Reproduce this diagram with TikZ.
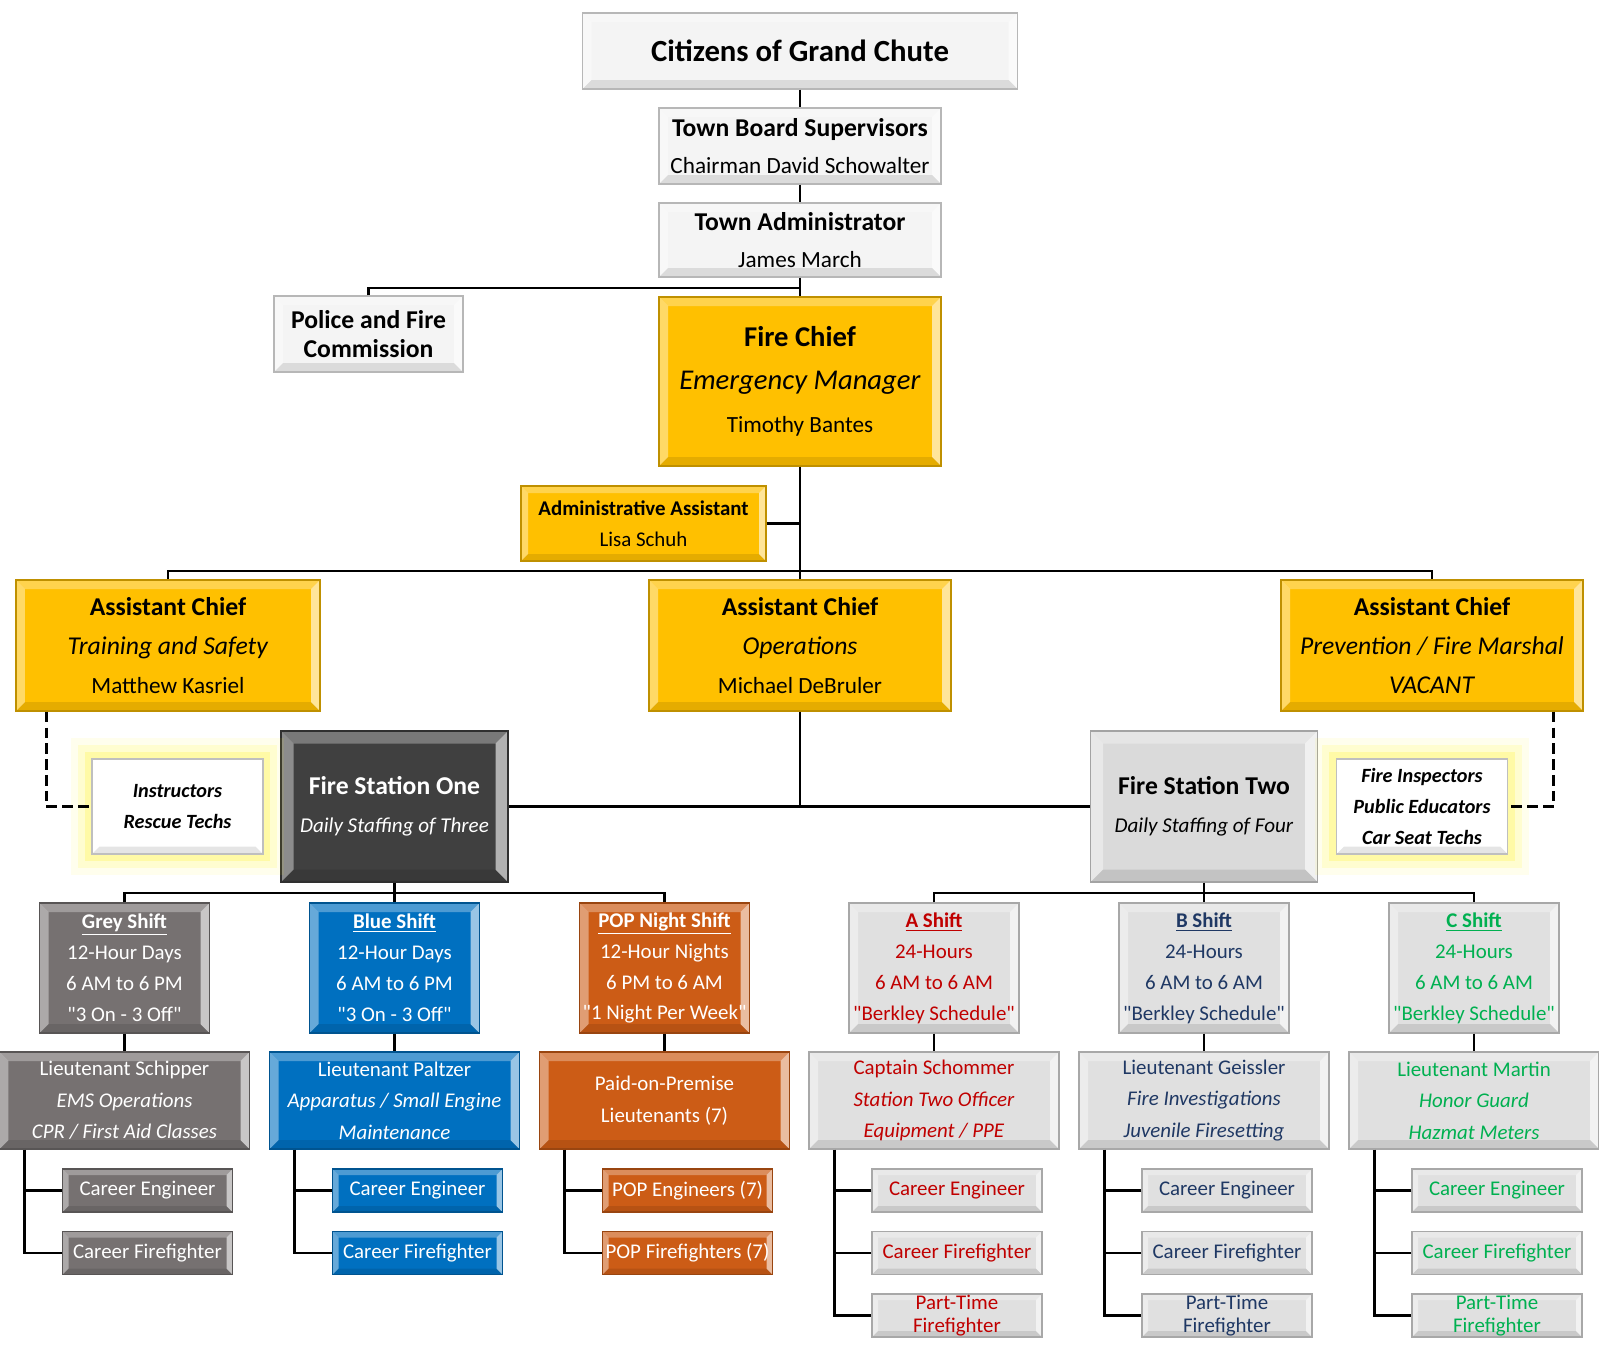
\documentclass[tikz,border=0pt]{standalone}
\usepackage{fontspec}
\setmainfont{Carlito}[Ligatures=TeXOff]
\usetikzlibrary{positioning}

\definecolor{paper}{HTML}{F4F4F4}
\definecolor{chiefgold}{HTML}{FFC000}
\definecolor{stationdark}{HTML}{404040}
\definecolor{stationpale}{HTML}{DADADA}
\definecolor{greyshift}{HTML}{767171}
\definecolor{blueshift}{HTML}{0070C0}
\definecolor{popshift}{HTML}{CC5C16}
\definecolor{paleshift}{HTML}{E0E0E0}
\definecolor{shiftred}{HTML}{C00000}
\definecolor{shiftnavy}{HTML}{1F3864}
\definecolor{shiftgreen}{HTML}{00B050}

\newcommand{\fsz}[2]{{\fontsize{#1}{#1}\selectfont #2}}

\begin{document}
\begin{tikzpicture}[
  link/.style={line width=1.6pt},
  dotlink/.style={link, dash pattern=on 6pt off 3pt},
  bevel/.style={path picture={
      \coordinate (bsw) at (path picture bounding box.south west);
      \coordinate (bne) at (path picture bounding box.north east);
      \coordinate (bnw) at (bsw |- bne);
      \coordinate (bse) at (bne |- bsw);
      \path (bne) ++(-#1,-#1) coordinate (ine);
      \path (bsw) ++(#1,#1) coordinate (isw);
      \coordinate (inw) at (isw |- ine);
      \coordinate (ise) at (ine |- isw);
      \fill[white, opacity=0.3] (bnw) -- (bne) -- (ine) -- (inw) -- cycle;
      \fill[white, opacity=0.4] (bnw) -- (bsw) -- (isw) -- (inw) -- cycle;
      \fill[white, opacity=0.6] (bne) -- (bse) -- (ise) -- (ine) -- cycle;
      \fill[black, opacity=0.1] (bsw) -- (bse) -- (ise) -- (isw) -- cycle;
  }},
  box/.style={rectangle, draw=#1!75!black, fill=#1, line width=0.8pt,
    align=center, inner sep=0pt},
  glow/.style={
    preaction={draw=yellow, line width=24pt, opacity=0.07, rounded corners=9pt},
    preaction={draw=yellow, line width=16pt, opacity=0.12, rounded corners=6pt},
    preaction={draw=yellow, line width=8pt, opacity=0.2}},
  govbox/.style={box=paper, bevel=0.18, minimum width=5.64cm, minimum height=1.52cm,
    font=\fontsize{13.2}{21.4}\selectfont},
  goldbox/.style={box=chiefgold, bevel=0.18, font=\fontsize{14.6}{22}\selectfont},
  station/.style={box=#1, bevel=0.25, minimum width=4.54cm, minimum height=3.02cm,
    font=\fontsize{12}{21.4}\selectfont},
  helper/.style={box=white, glow, bevel=0.15, minimum width=3.42cm, minimum height=1.9cm,
    font=\fontsize{11.5}{17.8}\selectfont\bfseries\itshape},
  shift/.style={box=#1, bevel=0.18, minimum width=3.4cm, minimum height=2.6cm,
    font=\fontsize{11.9}{17.6}\selectfont},
  lt/.style={box=#1, bevel=0.18, minimum width=5cm, minimum height=1.94cm,
    font=\fontsize{11.9}{17.9}\selectfont},
  crew/.style={box=#1, bevel=0.12, minimum width=3.4cm, minimum height=0.86cm,
    font=\fontsize{11.9}{12.7}\selectfont}
]

\useasboundingbox (0,0) rectangle (31.98,-27.04);

% Town government
\node[govbox, minimum width=8.7cm, font=\fontsize{17.5}{21}\selectfont\bfseries] (citizens) at (16,-1.02) {Citizens of Grand Chute};
\node[govbox] (board) at (16,-2.92) {\fsz{14.6}{\textbf{Town Board Supervisors}}\\Chairman David Schowalter};
\node[govbox, minimum height=1.48cm] (admin) at (16,-4.8) {\fsz{14.6}{\textbf{Town Administrator}}\\James March};
\node[govbox, minimum width=3.78cm, font=\fontsize{14.6}{16.2}\selectfont\bfseries] (police) at (7.37,-6.68) {Police and Fire\\Commission};

% Chief and staff
\node[goldbox, minimum width=5.64cm, minimum height=3.38cm, font=\fontsize{16.3}{24.6}\selectfont] (chief) at (16,-7.63)
  {\textbf{Fire Chief}\\\textit{Emergency Manager}\\\fsz{13.2}{Timothy Bantes}};
\node[goldbox, bevel=0.14, minimum width=4.9cm, minimum height=1.5cm, font=\fontsize{11.9}{17.9}\selectfont] (aide) at (12.87,-10.47)
  {\textbf{Administrative Assistant}\\Lisa Schuh};

\node[goldbox, minimum width=6.08cm, minimum height=2.62cm] (acTrain) at (3.36,-12.91)
  {\textbf{Assistant Chief}\\\textit{Training and Safety}\\\fsz{13.2}{Matthew Kasriel}};
\node[goldbox, minimum width=6.04cm, minimum height=2.62cm] (acOps) at (16,-12.91)
  {\textbf{Assistant Chief}\\\textit{Operations}\\\fsz{13.2}{Michael DeBruler}};
\node[goldbox, minimum width=6.04cm, minimum height=2.62cm] (acPrev) at (28.64,-12.91)
  {\textbf{Assistant Chief}\\\textit{Prevention / Fire Marshal}\\\textit{VACANT}};

% Stations
\node[station=stationdark, text=white] (stnOne) at (7.89,-16.13)
  {\fsz{14.6}{\textbf{Fire Station One}}\\\textit{Daily Staffing of Three}};
\node[station=stationpale] (stnTwo) at (24.08,-16.13)
  {\fsz{14.6}{\textbf{Fire Station Two}}\\\textit{Daily Staffing of Four}};
\node[helper] (instr) at (3.55,-16.13) {Instructors\\Rescue Techs};
\node[helper] (inspect) at (28.44,-16.13) {Fire Inspectors\\Public Educators\\Car Seat Techs};

% Shifts
\node[shift=greyshift, text=white] (greyShift) at (2.49,-19.36)
  {\underline{\textbf{Grey Shift}}\\12-Hour Days\\6 AM to 6 PM\\"3 On - 3 Off"};
\node[shift=blueshift, text=white] (blueShift) at (7.89,-19.36)
  {\underline{\textbf{Blue Shift}}\\12-Hour Days\\6 AM to 6 PM\\"3 On - 3 Off"};
\node[shift=popshift, text=white] (popShift) at (13.29,-19.36)
  {\underline{\textbf{POP Night Shift}}\\12-Hour Nights\\6 PM to 6 AM\\"1 Night Per Week"};
\node[shift=paleshift, text=shiftred] (aShift) at (18.68,-19.36)
  {\underline{\textbf{A Shift}}\\24-Hours\\6 AM to 6 AM\\"Berkley Schedule"};
\node[shift=paleshift, text=shiftnavy] (bShift) at (24.08,-19.36)
  {\underline{\textbf{B Shift}}\\24-Hours\\6 AM to 6 AM\\"Berkley Schedule"};
\node[shift=paleshift, text=shiftgreen] (cShift) at (29.48,-19.36)
  {\underline{\textbf{C Shift}}\\24-Hours\\6 AM to 6 AM\\"Berkley Schedule"};

% Shift officers
\node[lt=greyshift, text=white] (greyLt) at (2.49,-22.01)
  {Lieutenant Schipper\\\textit{EMS Operations}\\\textit{CPR / First Aid Classes}};
\node[lt=blueshift, text=white] (blueLt) at (7.89,-22.01)
  {Lieutenant Paltzer\\\textit{Apparatus / Small Engine}\\\textit{Maintenance}};
\node[lt=popshift, text=white] (popLt) at (13.29,-22.01)
  {Paid-on-Premise\\Lieutenants (7)};
\node[lt=paleshift, text=shiftred] (aLt) at (18.68,-22.01)
  {Captain Schommer\\\textit{Station Two Officer}\\\textit{Equipment / PPE}};
\node[lt=paleshift, text=shiftnavy] (bLt) at (24.08,-22.01)
  {Lieutenant Geissler\\\textit{Fire Investigations}\\\textit{Juvenile Firesetting}};
\node[lt=paleshift, text=shiftgreen] (cLt) at (29.48,-22.01)
  {Lieutenant Martin\\\textit{Honor Guard}\\\textit{Hazmat Meters}};

% Crews
\node[crew=greyshift, text=white] (greyEng) at (2.95,-23.81) {Career Engineer};
\node[crew=greyshift, text=white] (greyFF) at (2.95,-25.06) {Career Firefighter};
\node[crew=blueshift, text=white] (blueEng) at (8.35,-23.81) {Career Engineer};
\node[crew=blueshift, text=white] (blueFF) at (8.35,-25.06) {Career Firefighter};
\node[crew=popshift, text=white] (popEng) at (13.75,-23.81) {POP Engineers (7)};
\node[crew=popshift, text=white] (popFF) at (13.75,-25.06) {POP Firefighters (7)};
\node[crew=paleshift, text=shiftred] (aEng) at (19.14,-23.81) {Career Engineer};
\node[crew=paleshift, text=shiftred] (aFF) at (19.14,-25.06) {Career Firefighter};
\node[crew=paleshift, text=shiftred] (aPT) at (19.14,-26.31) {Part-Time\\Firefighter};
\node[crew=paleshift, text=shiftnavy] (bEng) at (24.54,-23.81) {Career Engineer};
\node[crew=paleshift, text=shiftnavy] (bFF) at (24.54,-25.06) {Career Firefighter};
\node[crew=paleshift, text=shiftnavy] (bPT) at (24.54,-26.31) {Part-Time\\Firefighter};
\node[crew=paleshift, text=shiftgreen] (cEng) at (29.94,-23.81) {Career Engineer};
\node[crew=paleshift, text=shiftgreen] (cFF) at (29.94,-25.06) {Career Firefighter};
\node[crew=paleshift, text=shiftgreen] (cPT) at (29.94,-26.31) {Part-Time\\Firefighter};

% Chain of command
\draw[link] (citizens) -- (board);
\draw[link] (board) -- (admin);
\draw[link] (admin) -- (chief);
\coordinate (commTap) at (16,-5.76);
\draw[link] (police.north) |- (commTap);
\draw[link] (chief) -- (acOps);
\draw[link] (aide.east) -- (aide.east -| chief.south);
\coordinate (acBus) at (16,-11.42);
\draw[link] (acTrain.north) |- (acBus) -| (acPrev.north);
\draw[link] (acOps.south) -- (acOps.south |- stnOne.east);
\draw[link] (stnOne.east) -- (stnTwo.west);
\draw[dotlink] ([xshift=0.62cm]acTrain.south west) |- (instr.west);
\draw[dotlink] ([xshift=-0.6cm]acPrev.south east) |- (inspect.east);

% Stations to shifts
\coordinate (busOne) at (7.89,-17.86);
\coordinate (busTwo) at (24.08,-17.86);
\draw[link] (greyShift.north) |- (busOne) -| (popShift.north);
\draw[link] (stnOne) -- (blueShift);
\draw[link] (aShift.north) |- (busTwo) -| (cShift.north);
\draw[link] (stnTwo) -- (bShift);

\draw[link] (greyShift) -- (greyLt);
\draw[link] (blueShift) -- (blueLt);
\draw[link] (popShift) -- (popLt);
\draw[link] (aShift) -- (aLt);
\draw[link] (bShift) -- (bLt);
\draw[link] (cShift) -- (cLt);

% Officers to crews
\draw[link] ([xshift=0.52cm]greyLt.south west) coordinate (greyTrunk) |- (greyFF.west);
\draw[link] (greyEng.west) -- (greyEng.west -| greyTrunk);
\draw[link] ([xshift=0.52cm]blueLt.south west) coordinate (blueTrunk) |- (blueFF.west);
\draw[link] (blueEng.west) -- (blueEng.west -| blueTrunk);
\draw[link] ([xshift=0.52cm]popLt.south west) coordinate (popTrunk) |- (popFF.west);
\draw[link] (popEng.west) -- (popEng.west -| popTrunk);
\draw[link] ([xshift=0.52cm]aLt.south west) coordinate (aTrunk) |- (aPT.west);
\draw[link] (aEng.west) -- (aEng.west -| aTrunk);
\draw[link] (aFF.west) -- (aFF.west -| aTrunk);
\draw[link] ([xshift=0.52cm]bLt.south west) coordinate (bTrunk) |- (bPT.west);
\draw[link] (bEng.west) -- (bEng.west -| bTrunk);
\draw[link] (bFF.west) -- (bFF.west -| bTrunk);
\draw[link] ([xshift=0.52cm]cLt.south west) coordinate (cTrunk) |- (cPT.west);
\draw[link] (cEng.west) -- (cEng.west -| cTrunk);
\draw[link] (cFF.west) -- (cFF.west -| cTrunk);

\end{tikzpicture}
\end{document}
